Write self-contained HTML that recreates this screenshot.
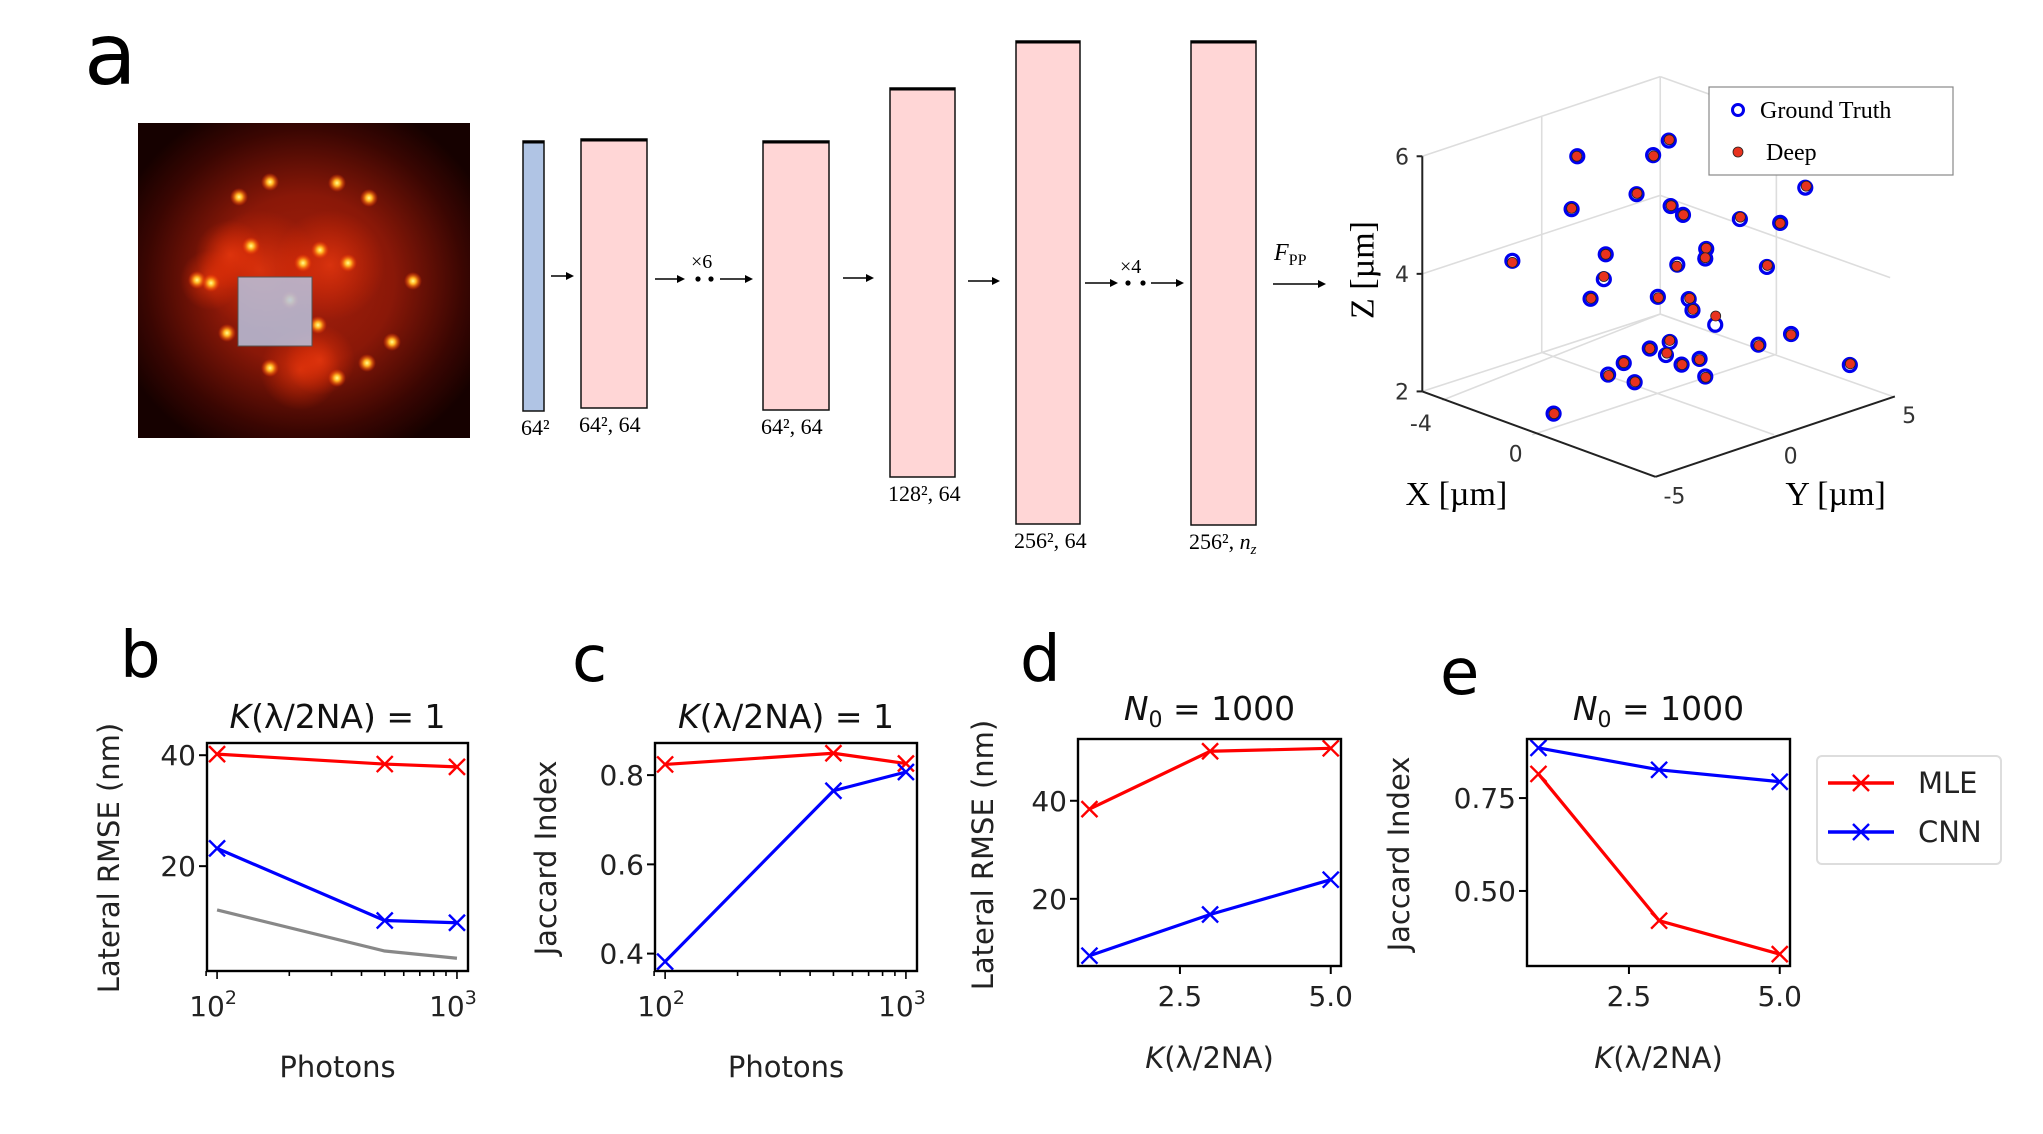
<!DOCTYPE html>
<html><head><meta charset="utf-8"><style>
html,body{margin:0;padding:0;background:#fff}
svg{display:block}
.ser{font-family:"Liberation Serif","DejaVu Serif",serif}
.sans{font-family:"DejaVu Sans","Liberation Sans",sans-serif}
</style></head><body>
<svg id="fig" width="2043" height="1134" viewBox="0 0 2043 1134" xmlns="http://www.w3.org/2000/svg">
<defs>
<radialGradient id="mic" cx="0.5" cy="0.5" r="0.6">
<stop offset="0" stop-color="#a8200c"/><stop offset="0.45" stop-color="#8a1808"/><stop offset="0.8" stop-color="#3a0602"/><stop offset="1" stop-color="#160100"/>
</radialGradient>
<radialGradient id="spot"><stop offset="0" stop-color="#ffff90"/><stop offset="0.35" stop-color="#ffb020"/><stop offset="1" stop-color="#ff3000" stop-opacity="0"/></radialGradient>
<radialGradient id="haze"><stop offset="0" stop-color="#ff4010" stop-opacity="0.6"/><stop offset="1" stop-color="#ff3000" stop-opacity="0"/></radialGradient>
</defs>
<text x="84" y="84" class="sans" font-size="86">a</text>
<g id="micro">
<rect x="138" y="123" width="332" height="315" fill="url(#mic)"/>
</g>
<g id="arch"></g>
<g id="p3d"></g>
<g id="charts"></g>
</svg>
<script>
const NS='http://www.w3.org/2000/svg';
function mk(tag,attrs,parent,txt){const e=document.createElementNS(NS,tag);for(const k in attrs)e.setAttribute(k,attrs[k]);if(txt!==undefined)e.textContent=txt;(parent||document.getElementById('fig')).appendChild(e);return e;}

// ---------- microscope spots ----------
const spotX=[270,337,239,369,251,413,197,211,227,392,367,318,303,348,337,270,290,320];
const spotY=[182,183,197,198,246,281,280,283,333,342,363,325,263,263,378,368,300,250];
const micro=document.getElementById('micro');
[[260,270,60],[330,265,55],[300,370,40],[210,280,30],[230,255,35],[320,360,35]].forEach(h=>mk('circle',{cx:h[0],cy:h[1],r:h[2],fill:'url(#haze)'},micro));
for(let i=0;i<spotX.length;i++){const s=mk('circle',{cx:spotX[i],cy:spotY[i],r:9,fill:'url(#spot)'},micro);

}
const ov=mk('rect',{x:238,y:277,width:74,height:69,fill:'#b8c4e0','fill-opacity':0.85,stroke:'#555','stroke-width':1},micro);



// ---------- architecture ----------
const arch=document.getElementById('arch');
const layers=[[523,141,544,411,'#b0c4e4','64²'],[581,139,647,408,'#ffd6d6','64², 64'],[763,141,829,410,'#ffd6d6','64², 64'],[890,88,955,477,'#ffd6d6','128², 64'],[1016,41,1080,524,'#ffd6d6','256², 64'],[1191,41,1256,525,'#ffd6d6','256², ']];
layers.forEach((l,i)=>{const r=mk('rect',{x:l[0],y:l[1],width:l[2]-l[0],height:l[3]-l[1],fill:l[4],stroke:'#111','stroke-width':1.5},arch);


mk('line',{x1:l[0],y1:l[1]+1,x2:l[2],y2:l[1]+1,stroke:'#000','stroke-width':3},arch);
const t=mk('text',{x:l[0]-2,y:l[3]+24,'font-size':22,class:'ser'},arch,l[5]);
if(i===5){mk('tspan',{'font-style':'italic'},t,'n');mk('tspan',{'font-style':'italic','font-size':15,dy:5},t,'z');}

});
function arrow(x1,x2,y){mk('line',{x1:x1,y1:y,x2:x2-6,y2:y,stroke:'#000','stroke-width':1.6},arch);mk('polygon',{points:`${x2},${y} ${x2-8},${y-4} ${x2-8},${y+4}`,fill:'#000'},arch);}
arrow(551,574,276);arrow(655,685,279);arrow(720,753,279);arrow(843,874,278);arrow(968,1000,281);arrow(1085,1118,283);arrow(1151,1184,283);arrow(1273,1326,284);
[[698,279],[711,279],[1128,283],[1143,283]].forEach(d=>mk('circle',{cx:d[0],cy:d[1],r:2.6,fill:'#000'},arch));
mk('text',{x:691,y:268,'font-size':20,class:'ser'},arch,'×6');
mk('text',{x:1120,y:273,'font-size':20,class:'ser'},arch,'×4');
const fpp=mk('text',{x:1274,y:260,'font-size':24,class:'ser','font-style':'italic'},arch,'F');
mk('tspan',{'font-size':16,'font-style':'normal',dy:5},fpp,'PP');

// ---------- 3D scatter ----------
const g3=document.getElementById('p3d');
const gtU=[585,745,778,710,573,782,808,928,1013,1066,448,645,796,857,855,985,641,613,755,820,828,876,780,738,772,683,650,706,805,843,855,967,1036,1160,535];
const gtV=[408,405,367,507,546,538,561,572,582,490,681,664,691,650,675,697,729,780,775,781,810,848,893,910,927,948,978,998,952,937,983,900,872,953,1080];
const dpU=[584,746,779,711,573,783,809,929,1013,1068,448,645,795,857,855,986,641,614,756,822,829,877,780,738,774,683,651,707,806,843,856,968,1036,1161,536];
const dpV=[408,407,365,505,544,537,561,567,583,486,685,664,695,648,673,693,722,779,777,779,808,825,889,910,922,947,980,997,952,939,985,902,874,950,1080];
const PX=u=>1300+u*0.474, PY=v=>v*0.383;
const grid='#dddddd';
function L(a,b,c,d,col,w){return mk('line',{x1:PX(a),y1:PY(b),x2:PX(c),y2:PY(d),stroke:col,'stroke-width':w||1.6},g3);}
L(258,408,760,200,grid);L(760,200,760,820,grid);L(258,715,760,510,grid);L(510,305,510,920,grid);L(258,1022,760,820,grid);
L(760,200,1245,415,grid);L(760,510,1245,725,grid);L(1005,310,1005,925,grid);L(760,820,1250,1035,grid);
L(490,1135,1005,925,grid);L(1000,1135,510,920,grid);L(300,1045,760,820,grid);
L(258,408,258,1022,'#222',2);L(258,1022,750,1245,'#222',2);L(750,1245,1255,1035,'#222',2);
[[408,'6'],[715,'4'],[1022,'2']].forEach(t=>{L(258,t[0],246,t[0],'#222',2);mk('text',{x:PX(230),y:PY(t[0])+8,'font-size':22,'text-anchor':'end',fill:'#333',class:'sans'},g3,t[1]);});
mk('text',{x:PX(255),y:PY(1125),'font-size':22,'text-anchor':'middle',fill:'#333',class:'sans'},g3,'-4');
mk('text',{x:PX(455),y:PY(1205),'font-size':22,'text-anchor':'middle',fill:'#333',class:'sans'},g3,'0');
mk('text',{x:PX(790),y:PY(1315),'font-size':22,'text-anchor':'middle',fill:'#333',class:'sans'},g3,'-5');
mk('text',{x:PX(1035),y:PY(1210),'font-size':22,'text-anchor':'middle',fill:'#333',class:'sans'},g3,'0');
mk('text',{x:PX(1285),y:PY(1105),'font-size':22,'text-anchor':'middle',fill:'#333',class:'sans'},g3,'5');
mk('text',{x:PX(330),y:PY(1318),'font-size':34,'text-anchor':'middle',class:'ser'},g3,'X [µm]');
mk('text',{x:PX(1130),y:PY(1318),'font-size':34,'text-anchor':'middle',class:'ser'},g3,'Y [µm]');
mk('text',{x:0,y:0,'font-size':34,'text-anchor':'middle',class:'ser',transform:`translate(${PX(155)},${PY(705)}) rotate(-90)`},g3,'Z [µm]');
for(let i=0;i<gtU.length;i++){const c=mk('circle',{cx:PX(gtU[i]),cy:PY(gtV[i]),r:6.5,fill:'#fff',stroke:'#0000ee','stroke-width':3.2},g3);

}
for(let i=0;i<dpU.length;i++){const c=mk('circle',{cx:PX(dpU[i]),cy:PY(dpV[i]),r:5,fill:'#e8321e',stroke:'#222','stroke-width':0.8},g3);

}
const lg=mk('g',{},g3);


mk('rect',{x:1709,y:87,width:244,height:88,fill:'#fff',stroke:'#888','stroke-width':1.2},lg);
mk('circle',{cx:1738,cy:110,r:5.5,fill:'#fff',stroke:'#0000ee','stroke-width':3},lg);
mk('text',{x:1760,y:118,'font-size':24,class:'ser'},lg,'Ground Truth');
mk('circle',{cx:1738,cy:152,r:5,fill:'#e8321e',stroke:'#222','stroke-width':0.8},lg);
mk('text',{x:1766,y:160,'font-size':24,class:'ser'},lg,'Deep');

// ---------- line charts ----------
const photons=[100,500,1000];
const kVals=[1,3,5];
const bMLE=[40.2,38.4,37.9];
const bCNN=[23.2,10.2,9.8];
const bCRLB=[12.1,4.7,3.4];
const cMLE=[0.824,0.849,0.826];
const cCNN=[0.382,0.765,0.807];
const dMLE=[38.3,50.1,50.7];
const dCNN=[8.4,16.8,23.9];
const eMLE=[0.815,0.42,0.33];
const eCNN=[0.885,0.826,0.794];
const ticksRMSE=[20,40];
const ticksJacC=[0.4,0.6,0.8];
const ticksJacE=[0.50,0.75];
const ticksK=[2.5,5.0];
const tickLogMajor=[100,1000];

const charts=document.getElementById('charts');
function chart(o){
  const g=mk('g',{},charts);
  
  
  const xs=v=>o.x0+(o.fx(v)-o.xmin)/(o.xmax-o.xmin)*(o.x1-o.x0);
  const ys=v=>o.y1-(v-o.ymin)/(o.ymax-o.ymin)*(o.y1-o.y0);
  o.series.forEach(s=>{
    const pts=o.xd.map((x,i)=>xs(x)+','+ys(s.v[i])).join(' ');
    const pl=mk('polyline',{points:pts,fill:'none',stroke:s.c,'stroke-width':3.2,'stroke-linejoin':'round'},g);
    
    
    if(s.m) o.xd.forEach((x,i)=>{const cx=xs(x),cy=ys(s.v[i]),d=8;
      const p=mk('path',{d:`M${cx-d},${cy-d}L${cx+d},${cy+d}M${cx-d},${cy+d}L${cx+d},${cy-d}`,stroke:s.c,'stroke-width':2.4},g);
      
      });
  });
  mk('rect',{x:o.x0,y:o.y0,width:o.x1-o.x0,height:o.y1-o.y0,fill:'none',stroke:'#000','stroke-width':2.4},g);
  o.yt.forEach(t=>{const y=ys(t);mk('line',{x1:o.x0-8,y1:y,x2:o.x0,y2:y,stroke:'#000','stroke-width':2},g);
    const tl=mk('text',{x:o.x0-11,y:y+10,'font-size':28,'text-anchor':'end',class:'sans',fill:'#222'},g,o.yfmt(t));
    
    });
  if(o.log){
    for(let e=100;e<=1000;e+=100){const x=xs(e);const maj=tickLogMajor.includes(e);mk('line',{x1:x,y1:o.y1,x2:x,y2:o.y1+(maj?8:5),stroke:'#000','stroke-width':1.6},g);}
    [90,2000].forEach(e=>{const x=xs(e);if(x>=o.x0-1&&x<=o.x1+1)mk('line',{x1:x,y1:o.y1,x2:x,y2:o.y1+5,stroke:'#000','stroke-width':1.6},g);});
    tickLogMajor.forEach(e=>{const t=mk('text',{x:xs(e)-4,y:o.y1+45,'font-size':28,'text-anchor':'middle',class:'sans',fill:'#222'},g,'10');
      mk('tspan',{'font-size':19,dy:-12},t,String(Math.round(Math.log10(e))));
      
      });
  } else {
    (o.xt||[]).forEach(t=>{const x=xs(t);mk('line',{x1:x,y1:o.y1,x2:x,y2:o.y1+8,stroke:'#000','stroke-width':2},g);
      const tl=mk('text',{x:x,y:o.y1+40,'font-size':28,'text-anchor':'middle',class:'sans',fill:'#222'},g,t.toFixed(1));
      
      });
  }
  const xl=mk('text',{x:(o.x0+o.x1)/2,y:o.xly,'font-size':29,'text-anchor':'middle',class:'sans',fill:'#222'},g);
  if(o.log){xl.textContent='Photons';}else{mk('tspan',{'font-style':'italic'},xl,'K');xl.appendChild(document.createTextNode('(λ/2NA)'));}
  
  
  const ttl=mk('text',{x:(o.x0+o.x1)/2,y:o.ty,'font-size':33,'text-anchor':'middle',class:'sans',fill:'#111'},g);
  if(o.log){mk('tspan',{'font-style':'italic'},ttl,'K');ttl.appendChild(document.createTextNode('(λ/2NA) = 1'));}
  else{mk('tspan',{'font-style':'italic'},ttl,'N');mk('tspan',{'font-size':22,dy:7},ttl,'0');mk('tspan',{dy:-7},ttl,' = 1000');}
  
  
  if(o.ylab){const yl=mk('text',{x:0,y:0,'font-size':29,'text-anchor':'middle',class:'sans',fill:'#222',transform:`translate(${o.ylx},${o.yly}) rotate(-90)`},g,o.ylab);
    
    }
  const pl=mk('text',{x:o.px,y:o.py,'font-size':64,class:'sans'},g,o.plabel);
  
  
}
const lg10=Math.log10, id=v=>v;
chart({name:'chart-b',plabel:'b',px:120,py:677,x0:207,x1:468,y0:743,y1:971,fx:lg10,xmin:1.958,xmax:3.046,ymin:1.1,ymax:42.2,xd:photons,log:true,
  yt:ticksRMSE,yfmt:t=>String(t),ty:728,xly:1077,ylab:'Lateral RMSE (nm)',ylx:119,yly:858,
  series:[{n:'crlb',c:'#888',v:bCRLB,m:false},{n:'mle',c:'#ff0000',v:bMLE,m:true},{n:'cnn',c:'#0000ff',v:bCNN,m:true}]});
chart({name:'chart-c',plabel:'c',px:572,py:681,x0:655,x1:917,y0:743,y1:971,fx:lg10,xmin:1.958,xmax:3.046,ymin:0.361,ymax:0.872,xd:photons,log:true,
  yt:ticksJacC,yfmt:t=>t.toFixed(1),ty:728,xly:1077,ylab:'Jaccard Index',ylx:556,yly:858,
  series:[{n:'mle',c:'#ff0000',v:cMLE,m:true},{n:'cnn',c:'#0000ff',v:cCNN,m:true}]});
chart({name:'chart-d',plabel:'d',px:1020,py:681,x0:1078,x1:1341,y0:739,y1:966,fx:id,xmin:0.81,xmax:5.17,ymin:6.3,ymax:52.6,xd:kVals,log:false,xt:ticksK,
  yt:ticksRMSE,yfmt:t=>String(t),ty:720,xly:1068,ylab:'Lateral RMSE (nm)',ylx:993,yly:855,
  series:[{n:'mle',c:'#ff0000',v:dMLE,m:true},{n:'cnn',c:'#0000ff',v:dCNN,m:true}]});
chart({name:'chart-e',plabel:'e',px:1440,py:694,x0:1527,x1:1790,y0:739,y1:966,fx:id,xmin:0.81,xmax:5.17,ymin:0.298,ymax:0.909,xd:kVals,log:false,xt:ticksK,
  yt:ticksJacE,yfmt:t=>t.toFixed(2),ty:720,xly:1068,ylab:'Jaccard Index',ylx:1409,yly:854,
  series:[{n:'mle',c:'#ff0000',v:eMLE,m:true},{n:'cnn',c:'#0000ff',v:eCNN,m:true}]});
// legend
const leg=mk('g',{},charts);


mk('rect',{x:1817,y:756,width:184,height:108,rx:5,fill:'#fff',stroke:'#ddd','stroke-width':2},leg);
[['MLE','#ff0000',783],['CNN','#0000ff',832]].forEach(e=>{
  mk('line',{x1:1828,y1:e[2],x2:1894,y2:e[2],stroke:e[1],'stroke-width':3.4},leg);
  mk('path',{d:`M1853,${e[2]-8}L1869,${e[2]+8}M1853,${e[2]+8}L1869,${e[2]-8}`,stroke:e[1],'stroke-width':2.4},leg);
  const t=mk('text',{x:1918,y:e[2]+10,'font-size':29,class:'sans',fill:'#222'},leg,e[0]);
  
  
});
</script>
</body></html>
